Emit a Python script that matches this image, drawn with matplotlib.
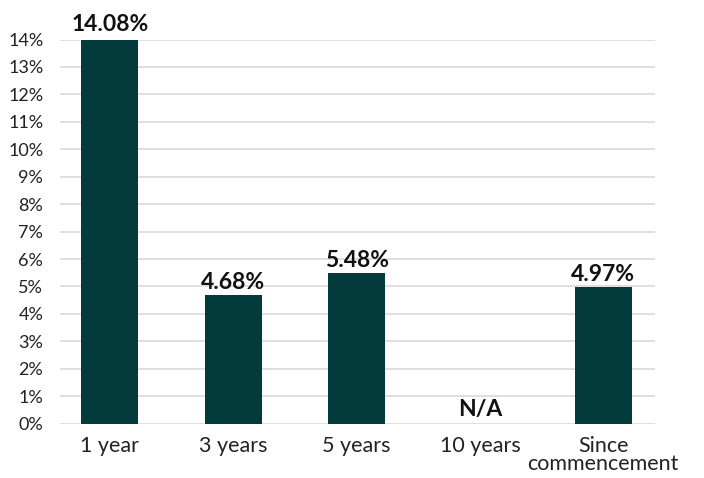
import matplotlib.pyplot as plt

# Annualised returns by period
periods = ["1 year", "3 years", "5 years", "10 years", "Since\ncommencement"]
returns = [14.08, 4.68, 5.48, None, 4.97]
y_ticks = list(range(0, 15))

bar_color = "#033B3C"
plt.rcParams["font.family"] = ["Lato", "DejaVu Sans"]

fig = plt.figure(figsize=(7.04, 4.78), dpi=100)
ax = fig.add_axes([60 / 704, 1 - 423.7 / 478, 595 / 704, (423.7 - 39.5) / 478])

xs = list(range(len(periods)))
for x, v in zip(xs, returns):
    if v is None:
        ax.text(x, 0.12, "N/A", ha="center", va="bottom",
                fontsize=16.5, fontweight="bold", color="#111111")
        continue
    ax.bar(x, v, width=0.462, color=bar_color, zorder=2)
    ax.text(x, v + 0.1, f"{v:.2f}%", ha="center", va="bottom",
            fontsize=16.5, fontweight="bold", color="#111111")

ax.set_xlim(-0.405, 4.42)
ax.set_ylim(0, 14)
ax.set_yticks(y_ticks)
ax.set_yticklabels([f"{t}%" for t in y_ticks], fontsize=13, color="#222222")
ax.set_xticks(xs)
ax.set_xticklabels(periods, fontsize=15.5, color="#222222", linespacing=0.85)
ax.tick_params(axis="both", length=0)
ax.tick_params(axis="x", pad=9)
ax.tick_params(axis="y", pad=12)

ax.grid(axis="y", color="#D9D9D9", linewidth=1.2, zorder=0)
for s in ax.spines.values():
    s.set_visible(False)

fig.savefig("out.png", dpi=100)
